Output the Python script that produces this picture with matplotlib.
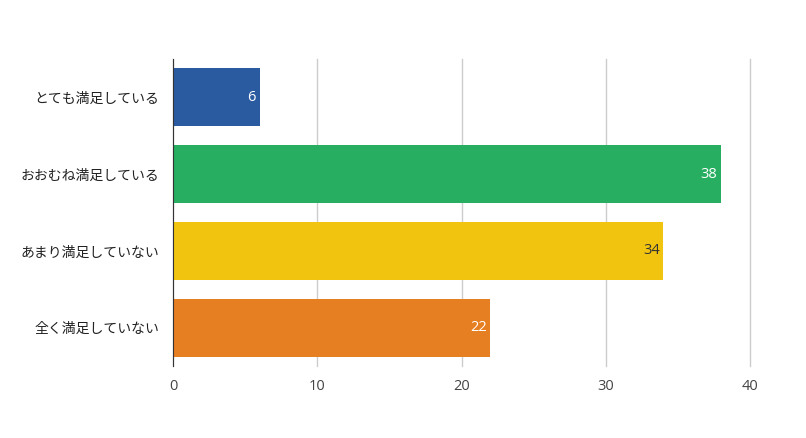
import matplotlib
matplotlib.use('Agg')
from matplotlib import pyplot as plt

plt.rcParams['font.family'] = ['Noto Sans CJK JP', 'DejaVu Sans']

categories = ['とても満足している', 'おおむね満足している', 'あまり満足していない', '全く満足していない']
values = [6, 38, 34, 22]
colors = ['#2A5BA0', '#27AE60', '#F1C40F', '#E67E22']
label_colors = ['white', 'white', '#333333', 'white']
xticks = [0, 10, 20, 30, 40]

fig = plt.figure(figsize=(8.06, 4.38), dpi=100)
ax = fig.add_axes([173/806, 1 - 366/438, (750 - 173)/806, (366 - 59)/438])

ypos = list(range(len(categories)))
ax.barh(ypos, values, height=0.755, color=colors, zorder=2)
ax.set_ylim(len(categories) - 0.5, -0.5)
ax.set_xlim(0, 40)

for y, v, c in zip(ypos, values, label_colors):
  ax.text(v - 0.25, y, str(v), ha='right', va='center', color=c, fontsize=10.5,
          family=['Open Sans', 'DejaVu Sans'], zorder=3)

ax.set_yticks(ypos)
ax.set_yticklabels(categories, fontsize=10, color='#222222')
ax.set_xticks(xticks)
ax.set_xticklabels([str(t) for t in xticks], fontsize=10.5, color='#444444',
                   family=['Open Sans', 'DejaVu Sans'])
ax.tick_params(axis='both', length=0)
ax.tick_params(axis='x', pad=9)
ax.tick_params(axis='y', pad=10)

ax.grid(axis='x', color='#cccccc', linewidth=1, zorder=0)
for line in ax.get_xgridlines():
  line.set_clip_on(False)
for s in ['top', 'right', 'bottom']:
  ax.spines[s].set_visible(False)
ax.spines['left'].set_color('#333333')
ax.spines['left'].set_zorder(4)

fig.savefig('out.png', dpi=100)
